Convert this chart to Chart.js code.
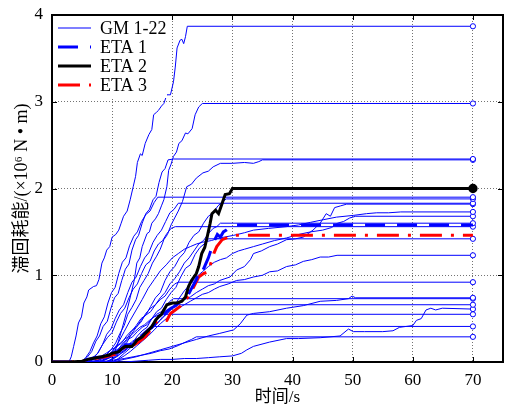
<!DOCTYPE html>
<html>
<head>
<meta charset="utf-8">
<script src="https://cdn.jsdelivr.net/npm/chart.js@4/dist/chart.umd.min.js"></script>
<style>
  html, body { margin: 0; background: #fff; }
  canvas { display: block; }
</style>
</head>
<body>
<canvas id="energyChart" width="505" height="411"></canvas>
<script>
// cumulative hysteretic energy, [time s, energy x10^6 N·m]
const gm1 = [[0,0],[2.8,0],[3.2,0.06],[3.6,0.18],[4.0,0.3],[4.4,0.45],[4.9,0.52],[5.3,0.68],[5.8,0.75],[6.1,0.83],[6.9,0.87],[7.4,0.88],[7.8,0.95],[8.3,1.14],[8.7,1.2],[9.1,1.29],[9.6,1.33],[10,1.44],[10.6,1.47],[11.1,1.52],[11.5,1.6],[11.9,1.68],[12.5,1.74],[13,1.87],[13.5,2.02],[13.9,2.14],[14.2,2.3],[14.7,2.4],[15,2.38],[15.5,2.52],[16.1,2.62],[16.6,2.68],[16.9,2.85],[17.4,2.88],[17.7,2.9],[18.2,2.95],[18.6,2.98],[19.1,3.08],[19.7,3.08],[20.2,3.23],[20.5,3.4],[20.8,3.62],[21.3,3.71],[21.6,3.72],[21.9,3.67],[22.2,3.75],[22.5,3.87],[70,3.87]];
const gm2 = [[0,0],[7,0],[8.3,0.02],[9.5,0.05],[10,0.06],[10.8,0.18],[11.6,0.37],[12.5,0.6],[13.3,0.83],[13.7,0.95],[14.1,1.14],[14.6,1.2],[15,1.33],[15.8,1.48],[16.2,1.5],[16.6,1.6],[17.2,1.65],[17.7,1.71],[18.2,1.8],[18.6,1.87],[19.1,2.02],[19.4,2.21],[19.8,2.28],[20.2,2.37],[20.7,2.42],[21.1,2.52],[21.6,2.55],[22.2,2.64],[22.6,2.63],[23.3,2.69],[23.8,2.85],[24.4,2.94],[25,2.98],[70,2.98]];
const gm3 = [[0,0],[5,0],[5.8,0.05],[6.6,0.12],[7.3,0.24],[7.9,0.3],[8.5,0.41],[9.2,0.47],[9.8,0.62],[10.4,0.74],[11,0.79],[11.6,0.94],[12.2,1.07],[12.8,1.13],[13.3,1.29],[13.9,1.41],[14.4,1.46],[15,1.6],[15.6,1.71],[16.2,1.76],[16.8,1.87],[17.3,1.91],[17.8,2.07],[18.3,2.19],[18.8,2.23],[19.3,2.33],[20.2,2.34],[70,2.34]];
const gm4 = [[0,0],[7,0],[8,0.03],[9,0.08],[9.8,0.14],[10.6,0.22],[11.3,0.33],[12,0.42],[12.6,0.55],[13.3,0.63],[14,0.72],[14.6,0.86],[15.3,0.94],[16,1.02],[16.7,1.14],[17.4,1.22],[18,1.3],[18.6,1.41],[19.2,1.47],[19.8,1.58],[20.4,1.66],[21,1.74],[21.7,1.85],[22.4,2.02],[23.2,2.05],[24,2.12],[25.1,2.18],[26,2.2],[26.8,2.25],[28,2.29],[30,2.29],[32,2.3],[33.5,2.29],[34.4,2.31],[35,2.33],[70,2.33]];
const gm5 = [[0,0],[4.8,0],[5.6,0.05],[6.3,0.12],[6.9,0.22],[7.5,0.3],[8.1,0.44],[8.7,0.52],[9.3,0.68],[9.9,0.8],[10.5,0.86],[11.1,1.02],[11.7,1.15],[12.3,1.2],[12.9,1.34],[13.6,1.45],[14.2,1.5],[14.9,1.62],[15.6,1.7],[16.3,1.74],[17,1.84],[17.6,1.9],[70,1.9]];
const gm6 = [[0,0],[8,0],[9,0.03],[10,0.07],[10.8,0.12],[11.6,0.2],[12.4,0.26],[13.2,0.35],[14,0.42],[14.8,0.5],[15.6,0.54],[16.4,0.64],[17.2,0.74],[18,0.8],[18.8,0.94],[19.6,1.04],[20.4,1.1],[21.2,1.2],[22,1.26],[22.8,1.38],[23.6,1.46],[24.4,1.5],[25.2,1.6],[26,1.68],[26.8,1.72],[27.6,1.8],[28.4,1.85],[29,1.88],[70,1.88]];
const gm7 = [[0,0],[6,0],[6.8,0.04],[7.6,0.1],[8.4,0.2],[9.1,0.32],[9.8,0.38],[10.5,0.5],[11.2,0.6],[11.9,0.66],[12.6,0.8],[13.3,0.92],[14,0.98],[14.7,1.1],[15.4,1.2],[16.1,1.26],[16.8,1.38],[17.5,1.46],[18.2,1.52],[18.9,1.62],[19.6,1.72],[20.3,1.76],[21,1.83],[70,1.83]];
const gm8 = [[0,0],[9,0],[10,0.03],[11,0.08],[12,0.12],[13,0.18],[14,0.25],[15,0.3],[16,0.38],[17,0.45],[18,0.52],[19,0.58],[20,0.63],[21,0.68],[22,0.72],[23,0.75],[24,0.8],[25,0.84],[26,0.88],[27,0.9],[27.9,0.94],[29.6,0.98],[30.7,1.06],[32,1.1],[33,1.18],[33.5,1.25],[34.8,1.28],[36.2,1.33],[37.5,1.36],[39,1.41],[40.5,1.42],[41.8,1.44],[43.4,1.52],[44.6,1.6],[45.6,1.71],[46.3,1.68],[47,1.78],[48,1.8],[49,1.82],[70,1.82]];
const gm9 = [[0,0],[8,0],[9,0.05],[10,0.12],[11,0.22],[12,0.35],[13,0.48],[14,0.6],[15,0.72],[16,0.85],[17,0.95],[18,1.05],[19,1.12],[20,1.2],[21,1.25],[22,1.3],[23,1.33],[24,1.36],[25,1.38],[26.5,1.4],[27.9,1.43],[30.2,1.46],[32,1.49],[33.5,1.52],[36,1.54],[39,1.56],[41,1.58],[43,1.61],[45.1,1.64],[47.3,1.67],[50.1,1.69],[52.3,1.71],[54,1.72],[56,1.72],[58,1.73],[70,1.73]];
const gm10 = [[0,0],[10,0],[11,0.04],[12,0.1],[13,0.16],[14,0.22],[15,0.3],[16,0.36],[17,0.42],[18,0.48],[19,0.55],[20,0.62],[21,0.72],[22,0.82],[23,0.9],[24,0.98],[25,1.04],[26,1.1],[27,1.15],[28,1.18],[29,1.2],[30,1.25],[31,1.28],[32,1.3],[33.5,1.33],[35,1.36],[37,1.4],[39,1.43],[41,1.47],[43,1.5],[45,1.52],[46.5,1.55],[47.5,1.6],[48.5,1.62],[49.5,1.66],[50.5,1.68],[70,1.68]];
const gm11 = [[0,0],[9,0],[10,0.04],[10.8,0.08],[11.6,0.16],[12.4,0.22],[13.2,0.32],[14,0.4],[14.8,0.46],[15.6,0.56],[16.4,0.62],[17.2,0.66],[18,0.74],[18.8,0.8],[19.6,0.9],[20.4,0.96],[21.2,1.04],[22,1.14],[22.8,1.2],[23.6,1.28],[24.4,1.36],[25.2,1.4],[26,1.48],[26.8,1.54],[27.4,1.56],[28,1.6],[70,1.6]];
const gm12 = [[0,0],[6,0],[6.8,0.05],[7.6,0.1],[8.4,0.2],[9.2,0.28],[10,0.34],[10.7,0.46],[11.4,0.56],[12.1,0.62],[12.8,0.74],[13.5,0.84],[14.2,0.9],[14.9,1.02],[15.6,1.12],[16.3,1.16],[17,1.28],[17.7,1.36],[18.4,1.4],[19.1,1.48],[19.8,1.54],[20.5,1.56],[70,1.56]];
const gm13 = [[0,0],[9,0],[10,0.03],[11,0.07],[11.8,0.12],[12.6,0.18],[13.4,0.22],[14.2,0.3],[15,0.36],[15.8,0.4],[16.6,0.5],[17.4,0.58],[18.2,0.62],[19,0.72],[19.8,0.8],[20.6,0.86],[21.4,0.98],[22.2,1.08],[23,1.12],[23.8,1.24],[24.6,1.32],[25.3,1.36],[26,1.42],[70,1.42]];
const gm14 = [[0,0],[10,0],[11,0.03],[12,0.07],[13,0.12],[14,0.18],[15,0.24],[16,0.3],[17,0.37],[18,0.44],[19,0.5],[20,0.56],[21,0.62],[22,0.66],[23,0.7],[24,0.74],[25,0.78],[26,0.8],[27,0.84],[27.9,0.87],[29.3,0.9],[30.7,0.94],[32,0.95],[33.5,0.98],[35,1.0],[36.2,1.04],[37.5,1.05],[39,1.1],[40.5,1.12],[41.8,1.16],[43.2,1.18],[44.6,1.21],[46,1.21],[47.4,1.23],[70,1.23]];
const gm15 = [[0,0],[7,0],[8,0.03],[9,0.07],[10,0.12],[10.8,0.18],[11.6,0.22],[12.4,0.3],[13.2,0.36],[14,0.4],[14.8,0.48],[15.6,0.54],[16.4,0.58],[17.2,0.66],[18,0.72],[18.8,0.76],[19.6,0.84],[20.4,0.9],[21,0.92],[70,0.92]];
const gm16 = [[0,0],[10,0],[12,0.03],[14,0.06],[16,0.1],[18,0.14],[20,0.18],[22,0.22],[24,0.26],[26,0.3],[27.9,0.33],[30.2,0.37],[31.3,0.44],[32.4,0.54],[33.5,0.56],[36.2,0.58],[39,0.62],[41.8,0.65],[44.6,0.7],[47.3,0.71],[49.3,0.73],[49.9,0.76],[50.5,0.74],[70,0.74]];
const gm17 = [[0,0],[7,0],[8,0.03],[9,0.06],[10,0.11],[11,0.15],[11.8,0.2],[12.6,0.26],[13.4,0.29],[14.2,0.35],[15,0.4],[15.8,0.43],[16.6,0.5],[17.4,0.55],[18.2,0.58],[19,0.65],[19.6,0.7],[20.2,0.73],[70,0.73]];
const gm18 = [[0,0],[8,0],[9,0.03],[10,0.06],[11,0.1],[12,0.13],[12.8,0.18],[13.6,0.22],[14.4,0.25],[15.2,0.31],[16,0.36],[16.8,0.39],[17.6,0.45],[18.4,0.52],[19.2,0.56],[19.9,0.62],[20.5,0.66],[70,0.66]];
const gm19 = [[0,0],[12,0],[14,0.01],[16,0.02],[18,0.03],[20,0.03],[22,0.04],[24,0.04],[26,0.05],[27.9,0.06],[30,0.07],[31.5,0.1],[32.4,0.14],[33.5,0.18],[36.2,0.23],[39,0.27],[41,0.27],[44.6,0.28],[47.9,0.3],[49.3,0.38],[50.1,0.35],[52,0.35],[55,0.35],[56.7,0.36],[57.8,0.4],[60,0.42],[60.6,0.48],[61.4,0.5],[62.2,0.6],[63,0.62],[63.8,0.6],[64.9,0.62],[70,0.61]];
const gm20 = [[0,0],[6,0],[7,0.03],[8,0.06],[9,0.1],[9.8,0.14],[10.6,0.17],[11.4,0.22],[12.2,0.27],[13,0.3],[13.8,0.35],[14.6,0.4],[15.4,0.43],[16.2,0.48],[17,0.52],[18,0.55],[70,0.55]];
const gm21 = [[0,0],[6,0],[7.5,0.02],[9,0.05],[10,0.08],[11,0.12],[11.8,0.14],[12.6,0.19],[13.4,0.24],[14.2,0.27],[15,0.31],[15.8,0.36],[16.5,0.39],[17,0.41],[70,0.41]];
const gm22 = [[0,0],[8,0],[10,0.02],[12,0.04],[13.5,0.06],[15,0.08],[16.5,0.1],[18,0.13],[19.5,0.15],[21,0.19],[22.2,0.23],[23.2,0.26],[24,0.29],[70,0.29]];
const gmRuns = [gm1, gm2, gm3, gm4, gm5, gm6, gm7, gm8, gm9, gm10, gm11, gm12, gm13, gm14, gm15, gm16, gm17, gm18, gm19, gm20, gm21, gm22];

const eta1 = [[0,0],[3,0],[5,0.01],[6,0.03],[7,0.05],[8.5,0.06],[9.5,0.08],[10.5,0.1],[11.5,0.15],[12.2,0.2],[13,0.2],[14,0.26],[15,0.31],[15.8,0.36],[16.5,0.4],[17.2,0.45],[18,0.5],[19,0.58],[19.8,0.62],[20.6,0.65],[21.3,0.7],[22,0.74],[22.7,0.78],[23.3,0.86],[24,0.95],[24.6,1.06],[25,1.04],[25.5,1.12],[26,1.2],[26.5,1.3],[27,1.4],[27.5,1.47],[28,1.44],[28.5,1.5],[29,1.52],[29.5,1.55],[30,1.58],[70,1.58]];
const eta2 = [[0,0],[3,0],[5,0.01],[6,0.03],[6.7,0.04],[8.3,0.06],[9.5,0.08],[10,0.1],[11.1,0.12],[11.7,0.16],[12.2,0.18],[13.3,0.18],[13.8,0.22],[14.1,0.25],[15,0.29],[15.5,0.33],[16.1,0.37],[16.6,0.41],[17.2,0.48],[17.7,0.52],[18.2,0.55],[18.6,0.6],[19.1,0.66],[20,0.68],[20.8,0.68],[21.6,0.7],[22.2,0.75],[22.7,0.87],[23.2,0.94],[23.6,0.98],[24,1.02],[24.4,1.1],[24.9,1.25],[25.4,1.32],[25.8,1.44],[26.3,1.6],[26.6,1.71],[27.2,1.75],[27.7,1.71],[28.3,1.83],[28.8,1.93],[29.5,1.94],[30,2.0],[70,2.0]];
const eta3 = [[0,0],[3,0],[5,0.01],[6,0.02],[7.2,0.04],[8.9,0.06],[10,0.08],[11.1,0.1],[11.9,0.16],[12.5,0.19],[13.3,0.18],[14.4,0.23],[15.5,0.29],[16.4,0.37],[16.9,0.43],[17.7,0.48],[18.4,0.47],[19.1,0.48],[19.7,0.56],[20.5,0.6],[21.3,0.64],[22.2,0.71],[23,0.79],[23.6,0.87],[24.4,0.98],[25.2,1.02],[26,1.04],[26.6,1.18],[26.9,1.25],[27.4,1.33],[28.3,1.41],[29.4,1.44],[30.2,1.46],[70,1.46]];

const xTickValues = [0, 10, 20, 30, 40, 50, 60, 70];
const yTickValues = [0, 1, 2, 3, 4];
const legendLabels = ['GM 1-22', 'ETA 1', 'ETA 2', 'ETA 3'];

const SERIF = "'Liberation Serif', 'Times New Roman', 'Noto Sans CJK SC', serif";
const BLUE = '#0000ff';

const toPoints = run => run.map(([x, y]) => ({ x, y }));
// only the last sample (t = 70 s) gets a marker
const lastOnly = r => ctx => (ctx.dataIndex === ctx.dataset.data.length - 1 ? r : 0);

const gmSets = gmRuns.map((run, i) => ({
    label: 'GM ' + (i + 1),
    data: toPoints(run),
    borderColor: BLUE,
    borderWidth: 1,
    pointRadius: lastOnly(2.6),
    pointBorderWidth: 1,
    pointBorderColor: BLUE,
    pointBackgroundColor: '#fff',
    order: 3
}));

const etaSets = [
    { label: 'ETA 1', data: toPoints(eta1), borderColor: BLUE, borderWidth: 3, borderDash: [20, 12], pointRadius: 0, order: 1 },
    { label: 'ETA 2', data: toPoints(eta2), borderColor: '#000', borderWidth: 3, pointRadius: lastOnly(3.2), pointBackgroundColor: '#000', pointBorderColor: '#000', order: 0 },
    { label: 'ETA 3', data: toPoints(eta3), borderColor: '#ff0000', borderWidth: 3, borderDash: [22, 9, 3, 9], pointRadius: 0, order: 2 }
];

// frame + inward tick marks, drawn under the curves
const framePlugin = {
    id: 'frame',
    beforeDatasetsDraw(chart) {
        const { ctx, chartArea: a, scales } = chart;
        ctx.save();
        ctx.strokeStyle = '#000';
        ctx.lineWidth = 1;
        const len = 5;
        ctx.beginPath();
        scales.x.ticks.forEach(t => {
            const px = Math.round(scales.x.getPixelForValue(t.value)) + 0.5;
            ctx.moveTo(px, a.bottom); ctx.lineTo(px, a.bottom - len);
            ctx.moveTo(px, a.top); ctx.lineTo(px, a.top + len);
        });
        scales.y.ticks.forEach(t => {
            const py = Math.round(scales.y.getPixelForValue(t.value)) + 0.5;
            ctx.moveTo(a.left, py); ctx.lineTo(a.left + len, py);
            ctx.moveTo(a.right, py); ctx.lineTo(a.right - len, py);
        });
        ctx.stroke();
        ctx.lineWidth = 2;
        ctx.strokeRect(a.left, a.top, a.right - a.left, a.bottom - a.top);
        ctx.restore();
    }
};

// line-sample legend in the upper left corner
const legendPlugin = {
    id: 'lineLegend',
    afterDatasetsDraw(chart) {
        const { ctx, chartArea: a } = chart;
        const styles = [gmSets[0], etaSets[0], etaSets[1], etaSets[2]];
        ctx.save();
        ctx.fillStyle = '#fff';
        ctx.fillRect(a.left + 1, a.top + 1, 114, 82);
        ctx.font = '18px ' + SERIF;
        ctx.textBaseline = 'middle';
        legendLabels.forEach((text, i) => {
            const ds = styles[i];
            const y = a.top + 13 + i * 19;
            ctx.beginPath();
            ctx.setLineDash(ds.borderDash || []);
            ctx.lineWidth = i === 0 ? 1.2 : ds.borderWidth;
            ctx.strokeStyle = ds.borderColor;
            ctx.moveTo(a.left + 6, y);
            ctx.lineTo(a.left + 39, y);
            ctx.stroke();
            ctx.setLineDash([]);
            ctx.fillStyle = '#000';
            ctx.fillText(text, a.left + 48, y + 1);
        });
        ctx.restore();
    }
};

const gridOpts = { color: 'rgba(0,0,0,0.55)', lineWidth: 1, drawTicks: false };

new Chart(document.getElementById('energyChart'), {
    type: 'line',
    data: { datasets: [...gmSets, ...etaSets] },
    options: {
        responsive: false,
        animation: false,
        devicePixelRatio: 1,
        layout: { autoPadding: false, padding: { top: 15, right: 2, left: 0, bottom: 0 } },
        elements: { line: { tension: 0 }, point: { pointStyle: 'circle' } },
        plugins: { legend: { display: false }, tooltip: { enabled: false } },
        scales: {
            x: {
                type: 'linear',
                min: 0,
                max: 75,
                afterBuildTicks: s => { s.ticks = xTickValues.map(v => ({ value: v })); },
                afterFit: s => { s.height = 49; s.paddingLeft = 0; s.paddingRight = 0; },
                ticks: { color: '#000', padding: 8, maxRotation: 0, font: { family: SERIF, size: 17 } },
                grid: gridOpts,
                border: { display: false, dash: [1, 2] },
                title: { display: true, text: '时间/s', color: '#000', padding: { top: 0, bottom: 3 }, font: { family: SERIF, size: 17 } }
            },
            y: {
                min: 0,
                max: 4,
                afterBuildTicks: s => { s.ticks = yTickValues.map(v => ({ value: v })); },
                afterFit: s => { s.width = 52; s.paddingTop = 0; s.paddingBottom = 0; },
                ticks: { color: '#000', padding: 9, font: { family: SERIF, size: 17 } },
                grid: gridOpts,
                border: { display: false, dash: [1, 2] },
                title: { display: true, text: '滞回耗能/(×10⁶ N • m)', color: '#000', padding: { top: 11, bottom: 0 }, font: { family: SERIF, size: 18 } }
            }
        }
    },
    plugins: [framePlugin, legendPlugin]
});
</script>
</body>
</html>
